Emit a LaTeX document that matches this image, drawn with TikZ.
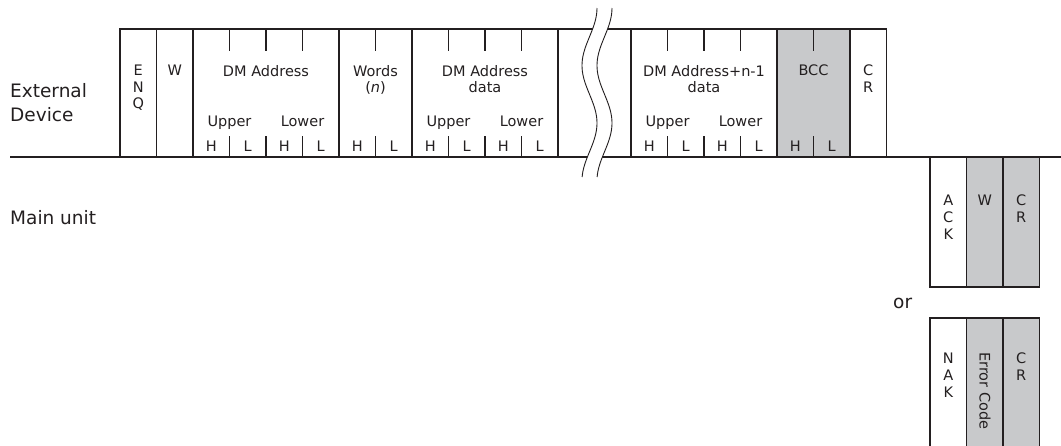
\documentclass[tikz,border=0pt]{standalone}
\usepackage{fontspec}
\setmainfont{DejaVu Sans}
\definecolor{ink}{RGB}{35,31,32}
\definecolor{fieldgray}{RGB}{200,201,203}
\tikzset{
  frame/.style={draw=ink, line width=1.1pt},
  field/.style={inner sep=0pt, anchor=north, align=center, text=ink,
    font=\fontsize{14.5}{16.7}\selectfont},
  sub/.style={inner sep=0pt, anchor=base, text=ink,
    font=\fontsize{14.5}{16.7}\selectfont},
  side/.style={inner sep=0pt, anchor=north west, align=left, text=ink,
    font=\fontsize{18.5}{24}\selectfont},
}
\begin{document}
\begin{tikzpicture}[x=1pt,y=-1pt]
\useasboundingbox (0,0) rectangle (1061,445);

% shaded fields
\fill[fieldgray] (777,29) rectangle (850,157);
\fill[fieldgray] (966.5,157) rectangle (1039.5,287);
\fill[fieldgray] (966.5,318) rectangle (1039.5,446);

% command frame of the external device
\draw[frame] (120,157) -- (120,29) -- (886.5,29) -- (886.5,157);
\draw[frame] (10,157) -- (1061,157);
\foreach \x in {156.5,193,339,412,558,631,777,850}
  \draw[frame] (\x,29) -- (\x,157);
\foreach \x in {229.5,266,302.5,375.5,448.5,485,521.5,667.5,704,740.5,813.5}
  \draw[frame] (\x,29) -- (\x,51) (\x,136) -- (\x,157);

% break mark
\fill[white] plot[variable=\t, domain=8:177, samples=60] ({589.5+7.5*cos((\t-8)*3.13)}, \t)
  -- plot[variable=\t, domain=177:8, samples=60] ({604.5+7.5*cos((\t-8)*3.13)}, \t) -- cycle;
\draw[ink, line width=0.9pt] plot[variable=\t, domain=8:177, samples=60] ({589.5+7.5*cos((\t-8)*3.13)}, \t);
\draw[ink, line width=0.9pt] plot[variable=\t, domain=8:177, samples=60] ({604.5+7.5*cos((\t-8)*3.13)}, \t);

% responses of the main unit
\draw[frame] (930,157) rectangle (1039.5,287);
\draw[frame] (966.5,157) -- (966.5,287) (1003,157) -- (1003,287);
\draw[frame] (930,446) -- (930,318) -- (1039.5,318) -- (1039.5,446);
\draw[frame] (966.5,318) -- (966.5,446) (1003,318) -- (1003,446);

% side labels
\node[side] (extdev) at (10,83) {External\\Device};
\node[side] (mainunit) at (10,210) {Main unit};
\node[side] (or) at (893,298) {or};

% field names
\node[field] (enq) at (138.25,64.8) {E\\N\\Q};
\node[field] (w) at (174.75,64.8) {W};
\node[field] (dmaddr) at (266,64.8) {DM Address};
\node[field] (words) at (375.5,64.8) {Words\\(\textit{n})};
\node[field] (dmdata) at (485,64.8) {DM Address\\data};
\node[field] (dmlast) at (704,64.8) {DM Address+n-1\\data};
\node[field] (bcc) at (813.5,64.8) {BCC};
\node[field] (cr) at (868.25,64.8) {C\\R};

\foreach \k in {2,8,14} {
  \node[sub] (upper\k) at ({120+(\k+1)*36.5},126) {Upper};
  \node[sub] (lower\k) at ({120+(\k+3)*36.5},126) {Lower};
}
\foreach \k in {2,4,6,8,10,14,16,18} {
  \node[sub] (h\k) at ({120+(\k+0.5)*36.5},151.5) {H};
  \node[sub] (l\k) at ({120+(\k+1.5)*36.5},151.5) {L};
}

\node[field] (ack) at (948.25,195) {A\\C\\K};
\node[field] (ackw) at (984.75,195) {W};
\node[field] (ackcr) at (1021.25,195) {C\\R};

\node[field] (nak) at (948.25,353) {N\\A\\K};
\node[field, anchor=west, rotate=-90] (errcode) at (985,352) {Error Code};
\node[field] (nakcr) at (1021.25,353) {C\\R};
\end{tikzpicture}
\end{document}
